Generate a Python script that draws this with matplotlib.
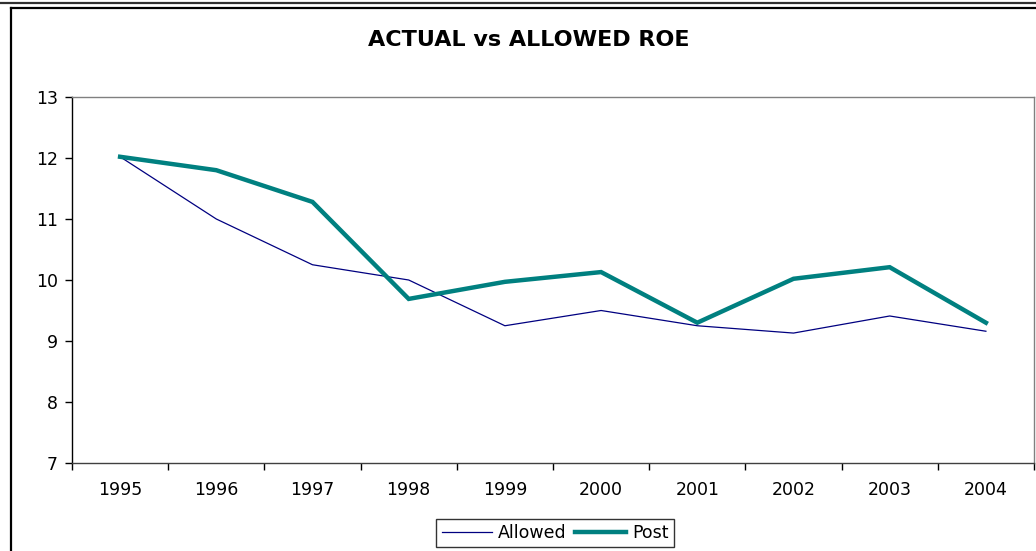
import matplotlib
matplotlib.use("Agg")
import matplotlib.pyplot as plt
from matplotlib.lines import Line2D
import numpy as np

plt.rcParams['font.family'] = ['DejaVu Sans']

# --- data ---
years = ['1995', '1996', '1997', '1998', '1999', '2000', '2001', '2002', '2003', '2004']
allowed = [12.02, 11.0, 10.25, 10.0, 9.25, 9.5, 9.25, 9.13, 9.41, 9.16]
post = [12.02, 11.8, 11.28, 9.69, 9.97, 10.13, 9.3, 10.02, 10.21, 9.3]

C_ALLOWED = "#000080"
C_POST = "#008080"

W, H = 1036, 551
fig = plt.figure(figsize=(W / 100, H / 100), dpi=100, facecolor='white')
ax = fig.add_axes([72 / W, (H - 463) / H, 962 / W, 366 / H])

x = np.arange(len(years))
ax.plot(x, allowed, color=C_ALLOWED, linewidth=0.9, label='Allowed', zorder=3)
ax.plot(x, post, color=C_POST, linewidth=3.2, label='Post', zorder=4,
        solid_joinstyle='miter')

# axes / ticks (Excel category style)
ax.set_xlim(-0.5, len(years) - 0.5)
ax.set_ylim(7, 13)
ax.set_yticks(range(7, 14))
ax.tick_params(axis='y', direction='out', length=5, width=1, labelsize=12.5, pad=5)
ax.set_xticks(x)
ax.set_xticklabels(years)
ax.set_xticks(np.arange(-0.5, len(years)), minor=True)
ax.tick_params(axis='x', which='major', length=0, labelsize=12.5, pad=13)
ax.tick_params(axis='x', which='minor', direction='out', length=5, width=1)

ax.spines['left'].set_color('black')
ax.spines['bottom'].set_color('#404040')
ax.spines['top'].set_color('#808080')
ax.spines['right'].set_color('#808080')
for s in ax.spines.values():
    s.set_linewidth(1)

fig.text(529 / W, 1 - 40 / H, 'ACTUAL vs ALLOWED ROE', ha='center', va='center',
         fontsize=16, fontweight='bold')

leg = fig.legend(loc='center', bbox_to_anchor=(555 / W, 1 - 533 / H), ncol=2,
                 fontsize=12.5, frameon=True, fancybox=False, handlelength=2.9,
                 handletextpad=0.35, columnspacing=0.5, borderpad=0.3,
                 borderaxespad=0)
leg.get_frame().set_edgecolor('black')
leg.get_frame().set_linewidth(1)

# outer chart border lines
fig.add_artist(Line2D([0, 1], [1 - 3 / H, 1 - 3 / H], color='#303030', linewidth=1.6))
fig.add_artist(Line2D([11 / W, 1], [1 - 8 / H, 1 - 8 / H], color='black', linewidth=1.6))
fig.add_artist(Line2D([11 / W, 11 / W], [0, 1 - 8 / H], color='black', linewidth=1.6))

fig.savefig('out.png', dpi=100, facecolor='white')
